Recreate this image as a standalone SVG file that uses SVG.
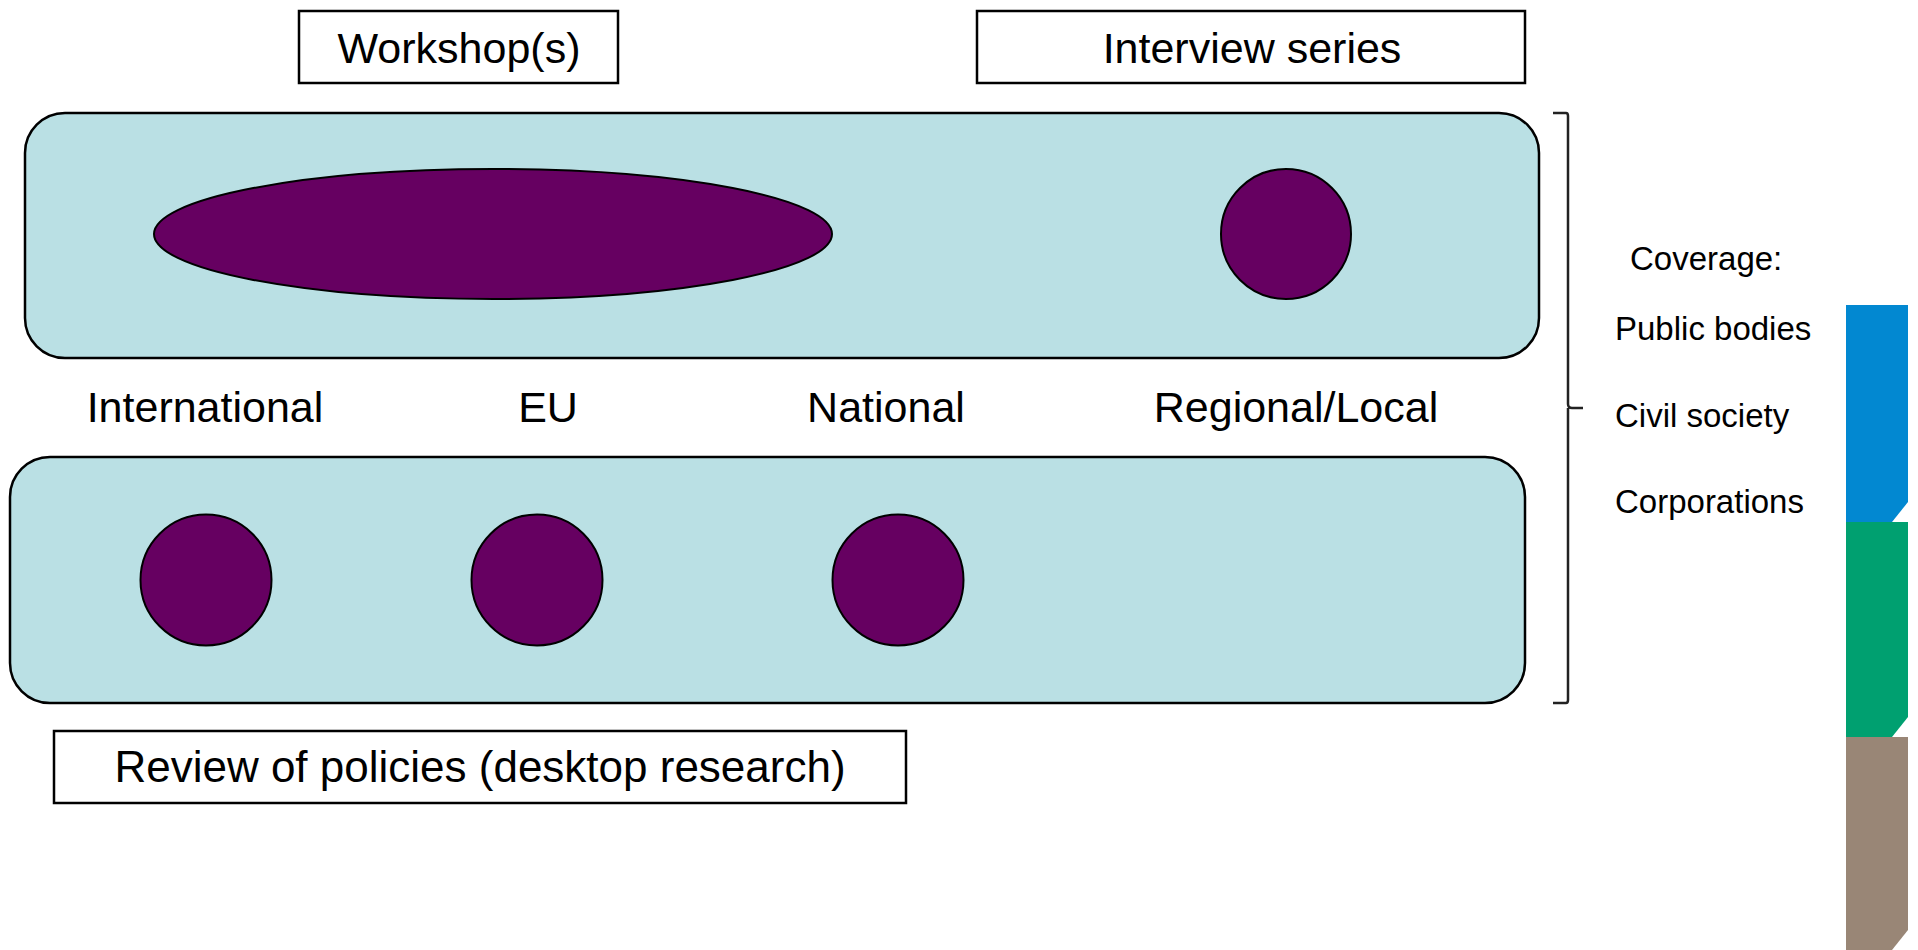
<svg xmlns="http://www.w3.org/2000/svg" width="1918" height="950" viewBox="0 0 1918 950">
<style>
.lbl{font-family:"Liberation Sans",Arial,sans-serif;font-size:43px;fill:#000;text-anchor:middle}
.cov{font-family:"Liberation Sans",Arial,sans-serif;font-size:33px;fill:#000}
.box{fill:#fff;stroke:#000;stroke-width:2.5}
.band{fill:#bae0e4;stroke:#000;stroke-width:2.5}
.dot{fill:#660061;stroke:#000;stroke-width:2}
</style>
<rect width="1918" height="950" fill="#fff"/>
<g id="workshop"><rect class="box" x="299" y="11" width="319" height="72"/><text class="lbl" x="459" y="63">Workshop(s)</text></g>
<g id="interview"><rect class="box" x="977" y="11" width="548" height="72"/><text class="lbl" x="1252" y="63">Interview series</text></g>
<g id="upper-band"><rect class="band" x="25" y="113" width="1514" height="245" rx="40" ry="40"/>
<ellipse class="dot" cx="493" cy="234" rx="339" ry="65"/>
<circle class="dot" cx="1286" cy="234" r="65"/></g>
<g id="levels">
<text class="lbl" x="205" y="422">International</text>
<text class="lbl" x="548" y="422">EU</text>
<text class="lbl" x="886" y="422">National</text>
<text class="lbl" x="1296" y="422">Regional/Local</text>
</g>
<g id="lower-band"><rect class="band" x="10" y="457" width="1515" height="246" rx="40" ry="40"/>
<circle class="dot" cx="206" cy="580" r="65.5"/>
<circle class="dot" cx="537" cy="580" r="65.5"/>
<circle class="dot" cx="898" cy="580" r="65.5"/></g>
<g id="review"><rect class="box" x="54" y="731" width="852" height="72"/><text class="lbl" x="480" y="782" style="font-size:44px">Review of policies (desktop research)</text></g>
<g id="connectors"><path d="M1553 113 H1566 Q1568 113 1568 116 V404 Q1568 408 1572 408 H1583 M1568 408 Q1568 412 1568 412 V700 Q1568 703 1566 703 H1553" fill="none" stroke="#222" stroke-width="2.5"/></g>
<g id="coverage">
<text class="cov" x="1630" y="270">Coverage:</text>
<text class="cov" x="1615" y="340">Public bodies</text>
<text class="cov" x="1615" y="427">Civil society</text>
<text class="cov" x="1615" y="513">Corporations</text>
</g>
<g id="bars">
<polygon points="1846,305 1908,305 1908,502 1892,522 1846,522" fill="#0288d1"/>
<polygon points="1846,522 1908,522 1908,717 1892,737 1846,737" fill="#00a070"/>
<polygon points="1846,737 1908,737 1908,930 1892,950 1846,950" fill="#998676"/>
</g>
</svg>
